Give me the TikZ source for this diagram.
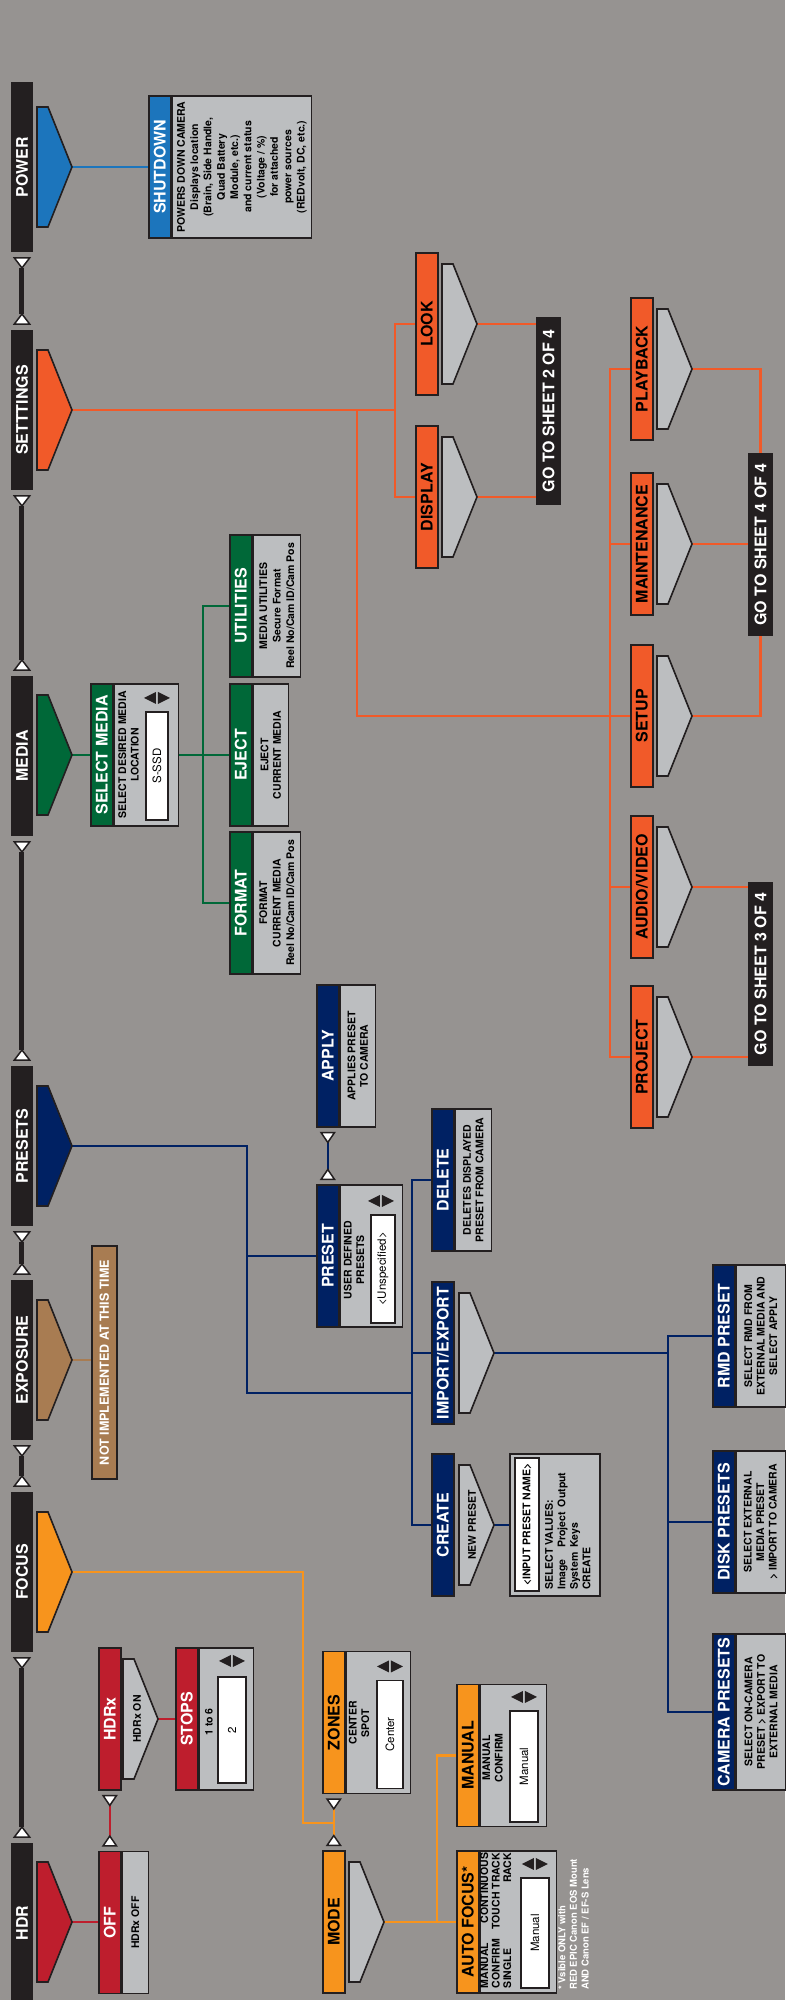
\documentclass[tikz,border=0pt]{standalone}
\usepackage{fontspec}
\setmainfont{TeX Gyre Heros}
\usetikzlibrary{arrows.meta,positioning}

\definecolor{fondo}{RGB}{150,147,145}
\definecolor{negro}{RGB}{35,31,32}
\definecolor{gris}{RGB}{188,190,192}
\definecolor{azul}{RGB}{28,117,188}
\definecolor{naranja}{RGB}{241,90,41}
\definecolor{verde}{RGB}{0,104,56}
\definecolor{marino}{RGB}{0,33,99}
\definecolor{marron}{RGB}{168,124,82}
\definecolor{ambar}{RGB}{247,148,29}
\definecolor{rojo}{RGB}{190,30,45}

\newcommand{\titulo}{\bfseries\fontsize{16}{16}\selectfont}
\newcommand{\menor}{\bfseries\fontsize{10.5}{12.5}\selectfont}
\newcommand{\valorf}{\fontsize{11.5}{12}\selectfont}

% punta bajo cada barra o etiqueta
\newcommand{\punta}[4]{%
  \draw[borde, fill=#4] (#2-60,#3) -- (#2+60,#3) -- (#2+60,#3-11) -- (#2,#3-35) -- (#2-60,#3-11) -- cycle;
  \coordinate (#1) at (#2,#3-35);}
% flechas de seleccion
\newcommand{\flechas}[2]{%
  \fill[negro] (#1-6,#2+1) -- (#1+6,#2+1) -- (#1,#2+13) -- cycle;
  \fill[negro] (#1-6,#2-1) -- (#1+6,#2-1) -- (#1,#2-13) -- cycle;}

\pgfdeclarelayer{lineas}
\pgfsetlayers{lineas,main}

\tikzset{
  tri/.tip={Triangle[reversed, length=12pt, width=18pt, fill=white, color=negro, line width=1.5pt]},
  trif/.tip={Triangle[reversed, length=12pt, width=16pt, fill=white, color=negro, line width=1.5pt]},
  borde/.style={draw=negro, line width=1.6pt},
  barra/.style={fill=negro, text=white, font=\titulo, minimum width=160pt, minimum height=22pt, inner sep=0pt},
  cab/.style={borde, fill=#1, text=white, font=\titulo, minimum width=142pt, minimum height=22pt, inner sep=0pt, anchor=north},
  etiqueta/.style={cab=#1, text=black},
  cuerpo/.style={borde, fill=gris, minimum width=142pt, minimum height=#1, inner sep=0pt, anchor=north, font=\menor, align=center},
  valor/.style={borde, fill=white, font=\valorf, inner sep=0pt},
  texto/.style={font=\menor, align=center, inner sep=0pt},
  salto/.style={fill=negro, text=white, font=\titulo, minimum height=25pt, inner sep=0pt},
  aviso/.style={borde, fill=marron, text=white, font=\bfseries\fontsize{12.5}{12.5}\selectfont, minimum width=233pt, minimum height=25pt, inner sep=0pt, anchor=north},
  linea/.style={draw=#1, line width=2.5pt},
  enlace/.style={draw=negro, line width=5pt, tri-tri, shorten <=5pt, shorten >=5pt},
  enlace fino/.style={draw=#1, line width=2.5pt, trif-trif, shorten <=4pt, shorten >=4pt},
}

\begin{document}
\begin{tikzpicture}[x=1pt, y=1pt, rotate=90, transform shape]
  \useasboundingbox (0,0) rectangle (2000,785);
  \begin{pgfonlayer}{lineas}
    \fill[fondo] (0,0) rectangle (2000,785);
  \end{pgfonlayer}

  % menu principal
  \node[barra, minimum width=170pt] (power) at (1833,763) {POWER};
  \node[barra] (settings) at (1590,763) {SETTTINGS};
  \node[barra] (media) at (1244,763) {MEDIA};
  \node[barra] (presets) at (854,763) {PRESETS};
  \node[barra] (exposure) at (640,763) {EXPOSURE};
  \node[barra] (focus) at (428,763) {FOCUS};
  \node[barra] (hdr) at (77,763) {HDR};
  \punta{aPower}{1833}{748}{azul}
  \punta{aSettings}{1590}{748}{naranja}
  \punta{aMedia}{1245}{748}{verde}
  \punta{aPresets}{854}{748}{marino}
  \punta{aExposure}{640}{748}{marron}
  \punta{aFocus}{428}{748}{ambar}
  \punta{aHdr}{78}{748}{rojo}

  % power
  \node[cab=azul] (shutdown) at (1833,637) {SHUTDOWN};
  \node[cuerpo=139pt, font=\bfseries\fontsize{10.5}{13.3}\selectfont] (shutdownB) at (shutdown.south)
    {POWERS DOWN CAMERA\\Displays location\\(Brain, Side Handle,\\Quad Battery\\Module, etc.)\\and current status\\(Voltage / \%)\\for attached\\power sources\\(REDvolt, DC, etc.)};

  % settings
  \node[etiqueta=naranja] (look) at (1676,370) {LOOK};
  \node[etiqueta=naranja] (display) at (1503,370) {DISPLAY};
  \punta{aLook}{1676}{343}{gris}
  \punta{aDisplay}{1503}{343}{gris}
  \node[salto, minimum width=188pt] (go2) at (1589,236.5) {GO TO SHEET 2 OF 4};
  \node[etiqueta=naranja] (playback) at (1631,155) {PLAYBACK};
  \node[etiqueta=naranja] (maint) at (1456,155) {MAINTENANCE};
  \node[etiqueta=naranja] (setup) at (1284,155) {SETUP};
  \node[etiqueta=naranja] (audio) at (1113,155) {AUDIO/VIDEO};
  \node[etiqueta=naranja] (project) at (943,155) {PROJECT};
  \foreach \n/\x in {Playback/1631, Maint/1456, Setup/1284, Audio/1113, Project/943}
    {\punta{a\n}{\x}{128}{gris}}
  \node[salto, minimum width=183pt] (go4) at (1455.5,24.5) {GO TO SHEET 4 OF 4};
  \node[salto, minimum width=184pt] (go3) at (1026,24.5) {GO TO SHEET 3 OF 4};

  % media
  \node[cab=verde] (selmedia) at (1245,695) {SELECT MEDIA};
  \node[cuerpo=64pt] (selmediaB) at (selmedia.south) {};
  \node[texto] (selmediaT) at (1245,656.5) {SELECT DESIRED MEDIA\\LOCATION};
  \node[valor, minimum width=108pt, minimum height=22pt] (selmediaV) at (1234,628) {S-SSD};
  \flechas{1302}{628}
  \node[cab=verde] (util) at (1394,556) {UTILITIES};
  \node[cuerpo=47pt, font=\bfseries\fontsize{10.5}{13.5}\selectfont] (utilB) at (util.south) {MEDIA UTILITIES\\Secure Format\\Reel No/Cam ID/Cam Pos};
  \node[cab=verde] (eject) at (1245,556) {EJECT};
  \node[cuerpo=35pt] (ejectB) at (eject.south) {EJECT\\CURRENT MEDIA};
  \node[cab=verde] (format) at (1097,556) {FORMAT};
  \node[cuerpo=47pt, font=\bfseries\fontsize{10.5}{13.5}\selectfont] (formatB) at (format.south) {FORMAT\\CURRENT MEDIA\\Reel No/Cam ID/Cam Pos};

  % presets
  \node[cab=marino] (preset) at (744,469) {PRESET};
  \node[cuerpo=62pt] (presetB) at (preset.south) {};
  \node[texto] (presetT) at (740,431) {USER DEFINED\\PRESETS};
  \node[valor, minimum width=108pt, minimum height=24pt] (presetV) at (731,402) {<Unspecified>};
  \flechas{799}{404}
  \node[cab=marino] (apply) at (944,469) {APPLY};
  \node[cuerpo=35pt] (applyB) at (apply.south) {APPLIES PRESET\\TO CAMERA};
  \node[cab=marino] (delete) at (820,354) {DELETE};
  \node[cuerpo=36pt] (deleteB) at (delete.south) {DELETES DISPLAYED\\PRESET FROM CAMERA};
  \node[etiqueta=marino, text=white] (import) at (647,354) {IMPORT/EXPORT};
  \punta{aImport}{647}{326}{gris}
  \node[etiqueta=marino, text=white] (create) at (475,354) {CREATE};
  \punta{aCreate}{475}{326}{gris}
  \node[texto] (newp) at (475,313) {NEW PRESET};
  \node[cuerpo=90pt] (crear) at (475,276) {};
  \node[valor, font=\menor, minimum width=133pt, minimum height=24pt] (crearV) at (475.5,258) {<INPUT PRESET NAME>};
  \node[font=\menor, anchor=north west, inner sep=0pt] (crearT) at (410,241)
    {\begin{tabular}{@{}l@{\hspace{5pt}}l@{\hspace{5pt}}l@{}}
      \multicolumn{3}{@{}l@{}}{SELECT VALUES:}\\
      Image & Project & Output\\
      System & Keys & \\
      \multicolumn{3}{@{}l@{}}{CREATE}
     \end{tabular}};
  \node[cab=marino] (rmd) at (664,73) {RMD PRESET};
  \node[cuerpo=49pt] (rmdB) at (rmd.south) {SELECT RMD FROM\\EXTERNAL MEDIA AND\\SELECT APPLY};
  \node[cab=marino] (disk) at (478,73) {DISK PRESETS};
  \node[cuerpo=49pt] (diskB) at (disk.south) {SELECT EXTERNAL\\MEDIA PRESET\\> IMPORT TO CAMERA};
  \node[cab=marino, minimum width=156pt] (camera) at (288,73) {CAMERA PRESETS};
  \node[cuerpo=49pt, minimum width=156pt] (cameraB) at (camera.south) {SELECT ON-CAMERA\\PRESET > EXPORT TO\\EXTERNAL MEDIA};

  % exposure
  \node[aviso] (noimpl) at (637.5,694) {NOT IMPLEMENTED AT THIS TIME};

  % focus
  \node[cab=ambar, text=black] (zones) at (277.5,463) {ZONES};
  \node[cuerpo=64pt] (zonesB) at (zones.south) {};
  \node[texto] (zonesT) at (277,426) {CENTER\\SPOT};
  \node[valor, minimum width=108pt, minimum height=26pt] (zonesV) at (265.5,395) {Center};
  \flechas{333.5}{395}
  \node[etiqueta=ambar] (mode) at (78,463) {MODE};
  \punta{aMode}{78}{436}{gris}
  \node[cab=ambar, text=black] (manual) at (244.5,329) {MANUAL};
  \node[cuerpo=66pt] (manualB) at (manual.south) {};
  \node[texto] (manualT) at (242,292.5) {MANUAL\\CONFIRM};
  \node[valor, minimum width=111pt, minimum height=28pt] (manualV) at (233.5,261) {Manual};
  \flechas{303}{261}
  \node[cab=ambar, text=black] (autof) at (78,329) {AUTO FOCUS*};
  \node[cuerpo=76pt] (autofB) at (autof.south) {};
  \node[font=\bfseries\fontsize{10.5}{11.5}\selectfont, anchor=north, inner sep=0pt] (autofT) at (79.5,305)
    {\begin{tabular*}{135pt}{@{}l@{\extracolsep{\fill}}r@{}}
      MANUAL & CONTINUOUS\\
      CONFIRM & TOUCH TRACK\\
      SINGLE & RACK
     \end{tabular*}};
  \node[valor, minimum width=110pt, minimum height=28pt] (autofV) at (67,250) {Manual};
  \flechas{136}{250}
  \node[anchor=north west, align=left, text=white, font=\bfseries\fontsize{9.5}{11.7}\selectfont, inner sep=0pt] (nota) at (10,227)
    {* Vsible ONLY with\\RED EPIC Canon EOS Mount\\AND Canon EF / EF-S Lens};

  % hdr
  \node[cab=rojo] (off) at (77.5,687) {OFF};
  \node[cuerpo=26pt] (offB) at (off.south) {HDRx OFF};
  \node[etiqueta=rojo, text=white] (hdrx) at (281,687) {HDRx};
  \punta{aHdrx}{281}{662}{gris}
  \node[texto] (hdrxon) at (281,648) {HDRx ON};
  \node[cab=rojo] (stops) at (281,610) {STOPS};
  \node[cuerpo=54pt] (stopsB) at (stops.south) {};
  \node[texto] (stopsT) at (278,576) {1 to 6};
  \node[valor, minimum width=106pt, minimum height=28pt] (stopsV) at (270,553) {2};
  \flechas{339}{553}

  % conexiones
  \begin{pgfonlayer}{lineas}
    \foreach \a/\b in {hdr/focus, focus/exposure, exposure/presets, presets/media, media/settings, settings/power}
      \draw[enlace] (\a.east) -- (\b.west);
    \draw[linea=azul] (aPower) -- (aPower |- shutdown.north);
    % settings
    \coordinate (jSet) at (1590,390);
    \coordinate (jSet2) at (1590,428);
    \coordinate (bus2) at (1284,175);
    \draw[linea=naranja] (aSettings) -- (jSet);
    \draw[linea=naranja] (look.north) |- (jSet) -| (display.north);
    \draw[linea=naranja] (jSet2) -| (setup.north);
    \draw[linea=naranja] (playback.north) |- (bus2) -| (project.north);
    \draw[linea=naranja] (maint.north) -- (maint.north |- bus2);
    \draw[linea=naranja] (audio.north) -- (audio.north |- bus2);
    \draw[linea=naranja] (aLook) -- (aLook |- go2.north);
    \draw[linea=naranja] (aDisplay) -- (aDisplay |- go2.north);
    \draw[linea=naranja] (aPlayback) |- (go4.east);
    \draw[linea=naranja] (aMaint) -- (aMaint |- go4.north);
    \draw[linea=naranja] (aSetup) |- (go4.west);
    \draw[linea=naranja] (aAudio) -- (aAudio |- go3.north);
    \draw[linea=naranja] (aProject) -- (aProject |- go3.north);
    % media
    \coordinate (jMed) at (1245,582);
    \draw[linea=verde] (aMedia) -- (selmedia.north);
    \draw[linea=verde] (selmediaB.south) -- (eject.north);
    \draw[linea=verde] (util.north) |- (jMed) -| (format.north);
    % presets
    \coordinate (busPre) at (607,373);
    \coordinate (busImp) at (647,117);
    \draw[linea=marino] (aPresets) -- ++(0,-175) -| (busPre);
    \draw[linea=marino] (preset.north) -- ++(0,69);
    \draw[linea=marino] (delete.north) |- (busPre) -| (create.north);
    \draw[linea=marino] (import.north) -- (import.north |- busPre);
    \draw[enlace fino=marino] (preset.east) -- (apply.west);
    \draw[linea=marino] (aCreate) -- (crear.north);
    \draw[linea=marino] (aImport) -- (busImp);
    \draw[linea=marino] (rmd.north) |- (busImp) -| (camera.north);
    \draw[linea=marino] (disk.north) -- (disk.north |- busImp);
    % exposure
    \draw[linea=marron] (aExposure) -- (aExposure |- noimpl.north);
    % focus
    \coordinate (jFoc) at (177,452);
    \coordinate (busMode) at (78,348);
    \draw[linea=ambar] (aFocus) -- ++(0,-231) -| (jFoc);
    \draw[enlace fino=ambar] (mode.east) -- (zones.west);
    \draw[linea=ambar] (aMode) -- (busMode);
    \draw[linea=ambar] (autof.north) -- (busMode) -| (manual.north);
    % hdr
    \draw[linea=rojo] (aHdr) -- (aHdr |- off.north);
    \draw[enlace fino=rojo] (off.east) -- (hdrx.west);
    \draw[linea=rojo] (aHdrx) -- (aHdrx |- stops.north);
  \end{pgfonlayer}
\end{tikzpicture}
\end{document}
